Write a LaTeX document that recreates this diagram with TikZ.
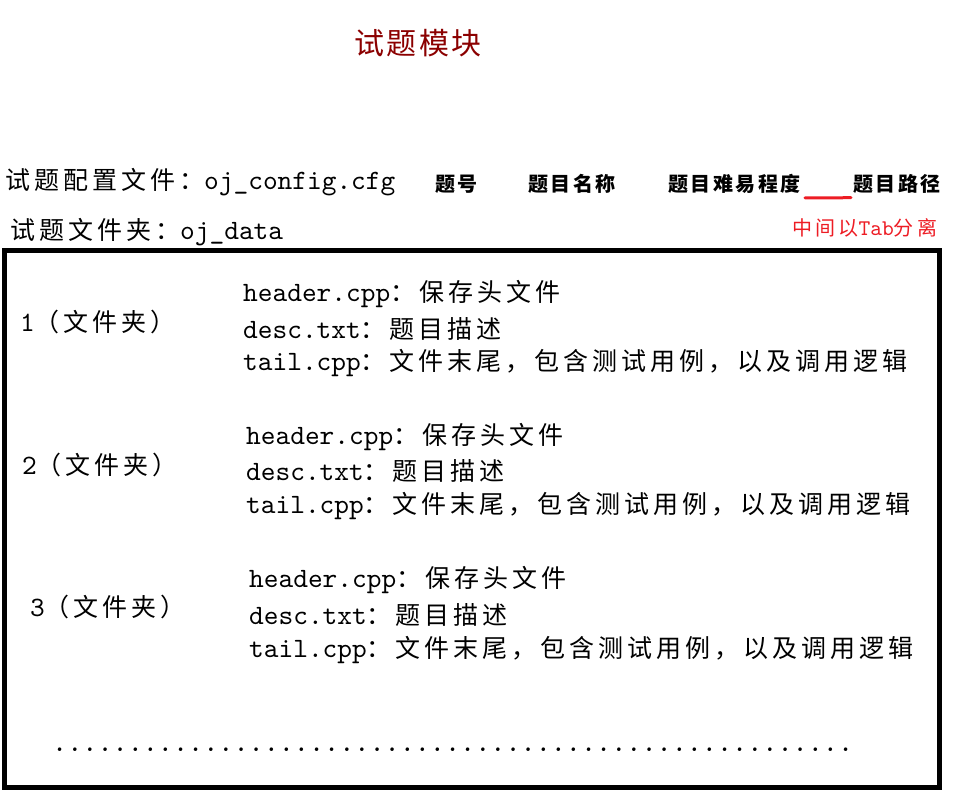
\documentclass[tikz,border=0pt]{standalone}
\usepackage{fontspec}
\usepackage{tikz}
\usetikzlibrary{calc}
\newfontfamily\cjk[LetterSpace=16]{Noto Sans CJK SC}
\newfontfamily\cjkhead[LetterSpace=12.5]{Noto Sans CJK SC}
\newfontfamily\cjknote[LetterSpace=16]{Noto Sans CJK SC}
\newfontfamily\cjktitle[LetterSpace=7]{Noto Sans CJK SC}
\newfontfamily\latmono[Scale=1.12]{lmmono10-regular.otf}
\newcommand{\lat}[1]{{\latmono #1}}
\definecolor{titlered}{RGB}{139, 0, 0}
\definecolor{notered}{RGB}{237, 28, 36}

\begin{document}
\begin{tikzpicture}[
    x=1pt, y=-1pt,
    % Text Styles
    title/.style={inner sep=0pt, text=titlered, font=\cjktitle\fontsize{30}{34}\selectfont},
    body/.style={anchor=west, inner sep=0pt, font=\cjk\fontsize{25}{30}\selectfont},
    colhead/.style={anchor=west, inner sep=0pt, font=\cjkhead\bfseries\fontsize{20}{24}\selectfont},
    note/.style={anchor=west, inner sep=0pt, text=notered, font=\cjknote\fontsize{20}{24}\selectfont},
    dotrow/.style={anchor=west, inner sep=0pt, font=\latmono\fontsize{25.7}{30}\selectfont},
    % Line Styles
    frame/.style={draw=black, line width=5pt},
    tabmark/.style={draw=notered, line width=3pt, line cap=round}
]
    \useasboundingbox (0,0) rectangle (957,795);

    % =========================================================================
    % 1. TITLE
    % =========================================================================
    \node (title) [title] at (418, 43) {试题模块};

    % =========================================================================
    % 2. CONFIG FILE & COLUMNS
    % =========================================================================
    \node (cfg_file) [body] at (5, 182) {试题配置文件：\lat{oj\_config.cfg}};
    \node (col_id)    [colhead] at (435, 184) {题号};
    \node (col_name)  [colhead] at (528, 184) {题目名称};
    \node (col_level) [colhead] at (668, 184) {题目难易程度};
    \node (col_path)  [colhead] at (853, 184) {题目路径};
    \node (tab_note)  [note] at (792, 228) {中间以\lat{Tab}分离};

    \draw[tabmark] ($(col_level.south east)+(4,4)$) -- ($(col_path.south west)+(-2,4)$);

    % =========================================================================
    % 3. DATA FOLDER
    % =========================================================================
    \node (data_dir) [body] at (10, 232) {试题文件夹：\lat{oj\_data}};
    \draw[frame] (4.5, 250.5) rectangle (939.5, 787.5);

    % folder 1
    \node (g1_label)  [body] at (20, 322) {\lat{1}（文件夹）};
    \node (g1_header) [body] at (243, 294) {\lat{header.cpp}：保存头文件};
    \node (g1_desc)   [body] at (243, 329) {\lat{desc.txt}：题目描述};
    \node (g1_tail)   [body] at (243, 363) {\lat{tail.cpp}：文件末尾，包含测试用例，以及调用逻辑};

    % folder 2
    \node (g2_label)  [body] at (22, 465) {\lat{2}（文件夹）};
    \node (g2_header) [body] at (246, 437) {\lat{header.cpp}：保存头文件};
    \node (g2_desc)   [body] at (246, 471) {\lat{desc.txt}：题目描述};
    \node (g2_tail)   [body] at (246, 506) {\lat{tail.cpp}：文件末尾，包含测试用例，以及调用逻辑};

    % folder 3
    \node (g3_label)  [body] at (30, 607) {\lat{3}（文件夹）};
    \node (g3_header) [body] at (249, 580) {\lat{header.cpp}：保存头文件};
    \node (g3_desc)   [body] at (249, 615) {\lat{desc.txt}：题目描述};
    \node (g3_tail)   [body] at (249, 650) {\lat{tail.cpp}：文件末尾，包含测试用例，以及调用逻辑};

    % more folders
    \node (more) [dotrow] at (52, 750) {.....................................................};

\end{tikzpicture}
\end{document}
